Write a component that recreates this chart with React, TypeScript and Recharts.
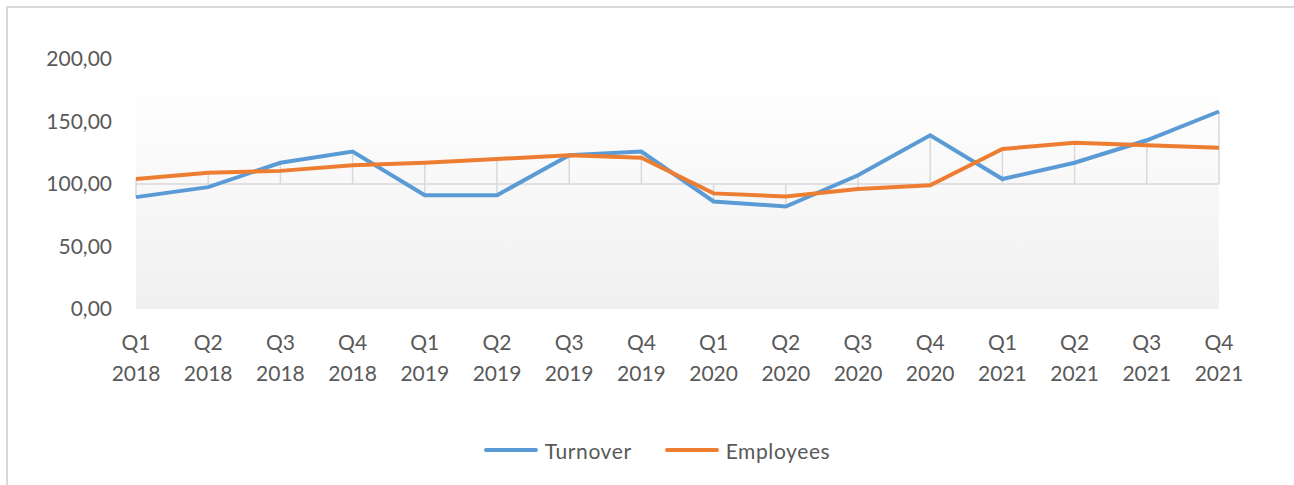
import { LineChart, Line, XAxis, YAxis, ReferenceLine, ReferenceArea } from "recharts";

const quarters = [
  "Q1 2018", "Q2 2018", "Q3 2018", "Q4 2018",
  "Q1 2019", "Q2 2019", "Q3 2019", "Q4 2019",
  "Q1 2020", "Q2 2020", "Q3 2020", "Q4 2020",
  "Q1 2021", "Q2 2021", "Q3 2021", "Q4 2021",
];
const turnover = [89.5, 97.5, 117, 126, 91, 91, 123, 126, 86, 82, 107, 139, 104, 117, 135, 158];
const employees = [104, 109, 110.5, 115, 117, 120, 123, 121, 92.5, 90, 96, 99, 128, 133, 131, 129];
const yTicks = [0, 50, 100, 150, 200];
const baseline = 100;

const data = quarters.map((q, i) => ({
  label: q,
  turnover: turnover[i],
  employees: employees[i],
}));

const BLUE = "#5B9BD5";
const ORANGE = "#ED7D31";
const TEXT = "#595959";
const FONT = "Lato, 'Open Sans', sans-serif";

function QuarterTick(props: any) {
  const { x, y, payload } = props;
  const [q, yr] = String(payload.value).split(" ");
  return (
    <text x={x} y={y} textAnchor="middle" fill={TEXT} fontFamily={FONT} fontSize={21}>
      <tspan x={x} dy={39}>{q}</tspan>
      <tspan x={x} dy={31}>{yr}</tspan>
    </text>
  );
}

export default function App() {
  return (
    <div style={{ position: "absolute", left: 0, top: 0, width: 1294, height: 485, background: "#fff", overflow: "hidden" }}>
      <div
        style={{
          position: "absolute",
          left: 6,
          top: 6,
          width: 1300,
          height: 500,
          borderTop: "2px solid #d9d9d9",
          borderLeft: "2px solid #d9d9d9",
        }}
      />
      <div style={{ position: "absolute", left: 0, top: 0 }}>
        <LineChart width={1294} height={485} data={data} margin={{ top: 59, right: 75, bottom: 96, left: 0 }}>
          <defs>
            <linearGradient id="plotBg" x1="0" y1="0" x2="0" y2="1">
              <stop offset="0%" stopColor="#ffffff" />
              <stop offset="13%" stopColor="#ffffff" />
              <stop offset="14%" stopColor="#fefefe" />
              <stop offset="100%" stopColor="#f0f0f0" />
            </linearGradient>
          </defs>
          <XAxis
            dataKey="label"
            interval={0}
            axisLine={false}
            tickLine={false}
            tickSize={0}
            height={80}
            tick={<QuarterTick />}
          />
          <YAxis
            width={136}
            domain={[0, 200]}
            ticks={yTicks}
            axisLine={false}
            tickLine={false}
            tickSize={0}
            tickMargin={24}
            tick={{ fill: TEXT, fontSize: 21, fontFamily: FONT }}
            tickFormatter={(v: number) => v.toFixed(2).replace(".", ",")}
          />
          <ReferenceArea y1={0} y2={200} fill="url(#plotBg)" fillOpacity={1} stroke="none" />
          {data.map((d) => (
            <ReferenceLine
              key={d.label}
              segment={[
                { x: d.label, y: Math.min(baseline, d.turnover, d.employees) },
                { x: d.label, y: Math.max(baseline, d.turnover, d.employees) },
              ]}
              stroke="#d9d9d9"
              strokeWidth={1.5}
            />
          ))}
          <ReferenceLine y={baseline} stroke="#d9d9d9" strokeWidth={1.5} />
          <Line
            type="linear"
            dataKey="turnover"
            name="Turnover"
            stroke={BLUE}
            strokeWidth={4}
            dot={false}
            isAnimationActive={false}
          />
          <Line
            type="linear"
            dataKey="employees"
            name="Employees"
            stroke={ORANGE}
            strokeWidth={4}
            dot={false}
            isAnimationActive={false}
          />
        </LineChart>
      </div>
      <div
        style={{
          position: "absolute",
          left: 0,
          top: 436,
          width: 1314,
          display: "flex",
          justifyContent: "center",
          alignItems: "center",
          fontFamily: FONT,
          fontSize: 21,
          letterSpacing: 0.6,
          color: TEXT,
          height: 28,
        }}
      >
        <span style={{ display: "inline-block", width: 54, height: 4, borderRadius: 2, background: BLUE, marginRight: 7 }} />
        <span style={{ marginRight: 33 }}>Turnover</span>
        <span style={{ display: "inline-block", width: 54, height: 4, borderRadius: 2, background: ORANGE, marginRight: 7 }} />
        <span>Employees</span>
      </div>
    </div>
  );
}
